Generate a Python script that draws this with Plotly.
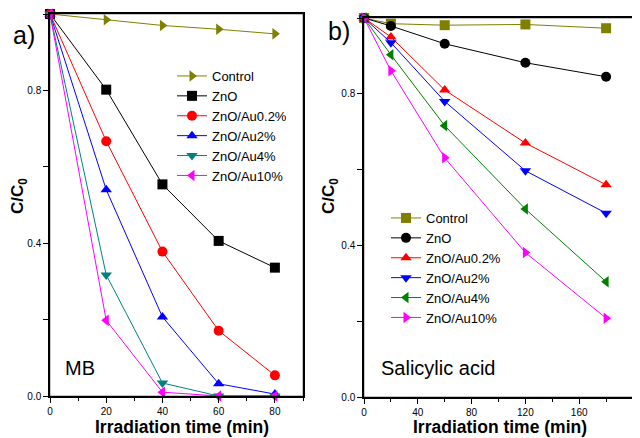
import plotly.graph_objects as go

# ---------------- data ----------------
t_mb = [0, 20, 40, 60, 80]
mb_control = [1.0, 0.985, 0.970, 0.960, 0.948]
mb_zno = [1.0, 0.802, 0.554, 0.406, 0.336]
mb_au02 = [1.0, 0.667, 0.378, 0.171, 0.054]
mb_au2 = [1.0, 0.540, 0.207, 0.032, 0.005]
mb_au4 = [1.0, 0.317, 0.034, 0.0, 0.0]
mb_au10 = [1.0, 0.198, 0.010, 0.0, 0.0]

t_sa = [0, 20, 60, 120, 180]
sa_control = [1.0, 0.985, 0.981, 0.983, 0.973]
sa_zno = [1.0, 0.979, 0.932, 0.882, 0.845]
sa_au02 = [1.0, 0.950, 0.810, 0.670, 0.560]
sa_au2 = [1.0, 0.935, 0.780, 0.597, 0.485]
sa_au4 = [1.0, 0.903, 0.716, 0.496, 0.304]
sa_au10 = [1.0, 0.861, 0.631, 0.381, 0.208]

names = ["Control", "ZnO", "ZnO/Au0.2%", "ZnO/Au2%", "ZnO/Au4%", "ZnO/Au10%"]

mb_series = [mb_control, mb_zno, mb_au02, mb_au2, mb_au4, mb_au10]
mb_colors = ["#808000", "#000000", "#ff0000", "#0000ff", "#008080", "#ff00ff"]
mb_symbols = ["triangle-right", "square", "circle", "triangle-up", "triangle-down", "triangle-left"]

sa_series = [sa_control, sa_zno, sa_au02, sa_au2, sa_au4, sa_au10]
sa_colors = ["#808000", "#000000", "#ff0000", "#0000ff", "#008000", "#ff00ff"]
sa_symbols = ["square", "circle", "triangle-up", "triangle-down", "triangle-left", "triangle-right"]

fig = go.Figure()

for name, ys, c, s in zip(names, mb_series, mb_colors, mb_symbols):
    fig.add_trace(go.Scatter(x=t_mb, y=ys, name=name, mode="lines+markers",
                             line=dict(color=c, width=1),
                             marker=dict(symbol=s, color=c, size=10),
                             xaxis="x", yaxis="y", legend="legend", cliponaxis=False))

for name, ys, c, s in zip(names, sa_series, sa_colors, sa_symbols):
    fig.add_trace(go.Scatter(x=t_sa, y=ys, name=name, mode="lines+markers",
                             line=dict(color=c, width=1),
                             marker=dict(symbol=s, color=c, size=10),
                             xaxis="x2", yaxis="y2", legend="legend2", cliponaxis=False))

# page body has an 8px margin: figure is placed at (8, 8) in the window
OFF = 8
W, H = 640 - OFF, 438 - OFF
def px(x): return (x - OFF) / W
def py(y): return 1 - (y - OFF) / H

axis_common = dict(showline=True, linecolor="black", linewidth=1.5, mirror=True,
                   automargin=False,
                   ticks="outside", ticklen=5, tickcolor="black", tickwidth=1,
                   showgrid=False, zeroline=False,
                   tickfont=dict(family="Arial", size=10, color="black"))

dom_x1 = [px(50), px(303)]
dom_y1 = [py(396), py(14)]
dom_x2 = [px(364), px(633)]
dom_y2 = [py(397), py(18)]

fig.update_layout(
    template="simple_white",
    width=W, height=H,
    margin=dict(l=0, r=0, t=0, b=0, autoexpand=False),
    paper_bgcolor="white", plot_bgcolor="white",
    font=dict(family="Arial", color="black"),
    xaxis=dict(domain=dom_x1, range=[0, 90], dtick=20, tick0=0,
               minor=dict(dtick=10, ticklen=3, ticks="outside", tickcolor="black"),
               anchor="y", **axis_common),
    yaxis=dict(domain=dom_y1, range=[0, 1.0], dtick=0.4, tick0=0,
               tickformat=".1f",
               minor=dict(dtick=0.2, ticklen=5, ticks="outside", tickcolor="black"),
               anchor="x", **axis_common),
    xaxis2=dict(domain=dom_x2, range=[0, 200], dtick=40, tick0=0,
                minor=dict(dtick=20, ticklen=3, ticks="outside", tickcolor="black"),
                anchor="y2", **axis_common),
    yaxis2=dict(domain=dom_y2, range=[0, 1.0], dtick=0.4, tick0=0,
                tickformat=".1f",
                minor=dict(dtick=0.2, ticklen=5, ticks="outside", tickcolor="black"),
                anchor="x2", **axis_common),
    legend=dict(x=px(172), y=py(61), xanchor="left", yanchor="top",
                bgcolor="rgba(0,0,0,0)", font=dict(family="Arial", size=13),
                tracegroupgap=0, itemwidth=30),
    legend2=dict(x=px(386), y=py(203), xanchor="left", yanchor="top",
                 bgcolor="rgba(0,0,0,0)", font=dict(family="Arial", size=13),
                 tracegroupgap=0, itemwidth=30),
    showlegend=True,
)

# frame lines around both panels (paper-referenced, not clipped)
for dx, dy in ((dom_x1, dom_y1), (dom_x2, dom_y2)):
    for x0, y0, x1, y1 in ((dx[0], dy[0], dx[1], dy[0]), (dx[0], dy[1], dx[1], dy[1]),
                           (dx[0], dy[0], dx[0], dy[1]), (dx[1], dy[0], dx[1], dy[1])):
        fig.add_shape(type="line", xref="paper", yref="paper", x0=x0, y0=y0, x1=x1, y1=y1,
                      line=dict(color="black", width=1.5), layer="above")

annos = [
    dict(text="a)", x=px(11), y=py(35), font=dict(size=25)),
    dict(text="b)", x=px(326), y=py(31), font=dict(size=25)),
    dict(text="MB", x=px(63), y=py(368), font=dict(size=20)),
    dict(text="Salicylic acid", x=px(379), y=py(368), font=dict(size=20)),
    dict(text="<b>Irradiation time (min)</b>", x=px(182), y=py(427), font=dict(size=17.5), xanchor="center"),
    dict(text="<b>Irradiation time (min)</b>", x=px(500), y=py(427), font=dict(size=17.5), xanchor="center"),
    dict(text="<b>C/C<sub>0</sub></b>", x=px(19), y=py(196), font=dict(size=17), textangle=-90, xanchor="center"),
    dict(text="<b>C/C<sub>0</sub></b>", x=px(330), y=py(196), font=dict(size=17), textangle=-90, xanchor="center"),
]
for a in annos:
    a.setdefault("xanchor", "left")
    fig.add_annotation(xref="paper", yref="paper", showarrow=False, yanchor="middle",
                       font_family="Arial", font_color="black", **a)

fig.write_html("out.html")
